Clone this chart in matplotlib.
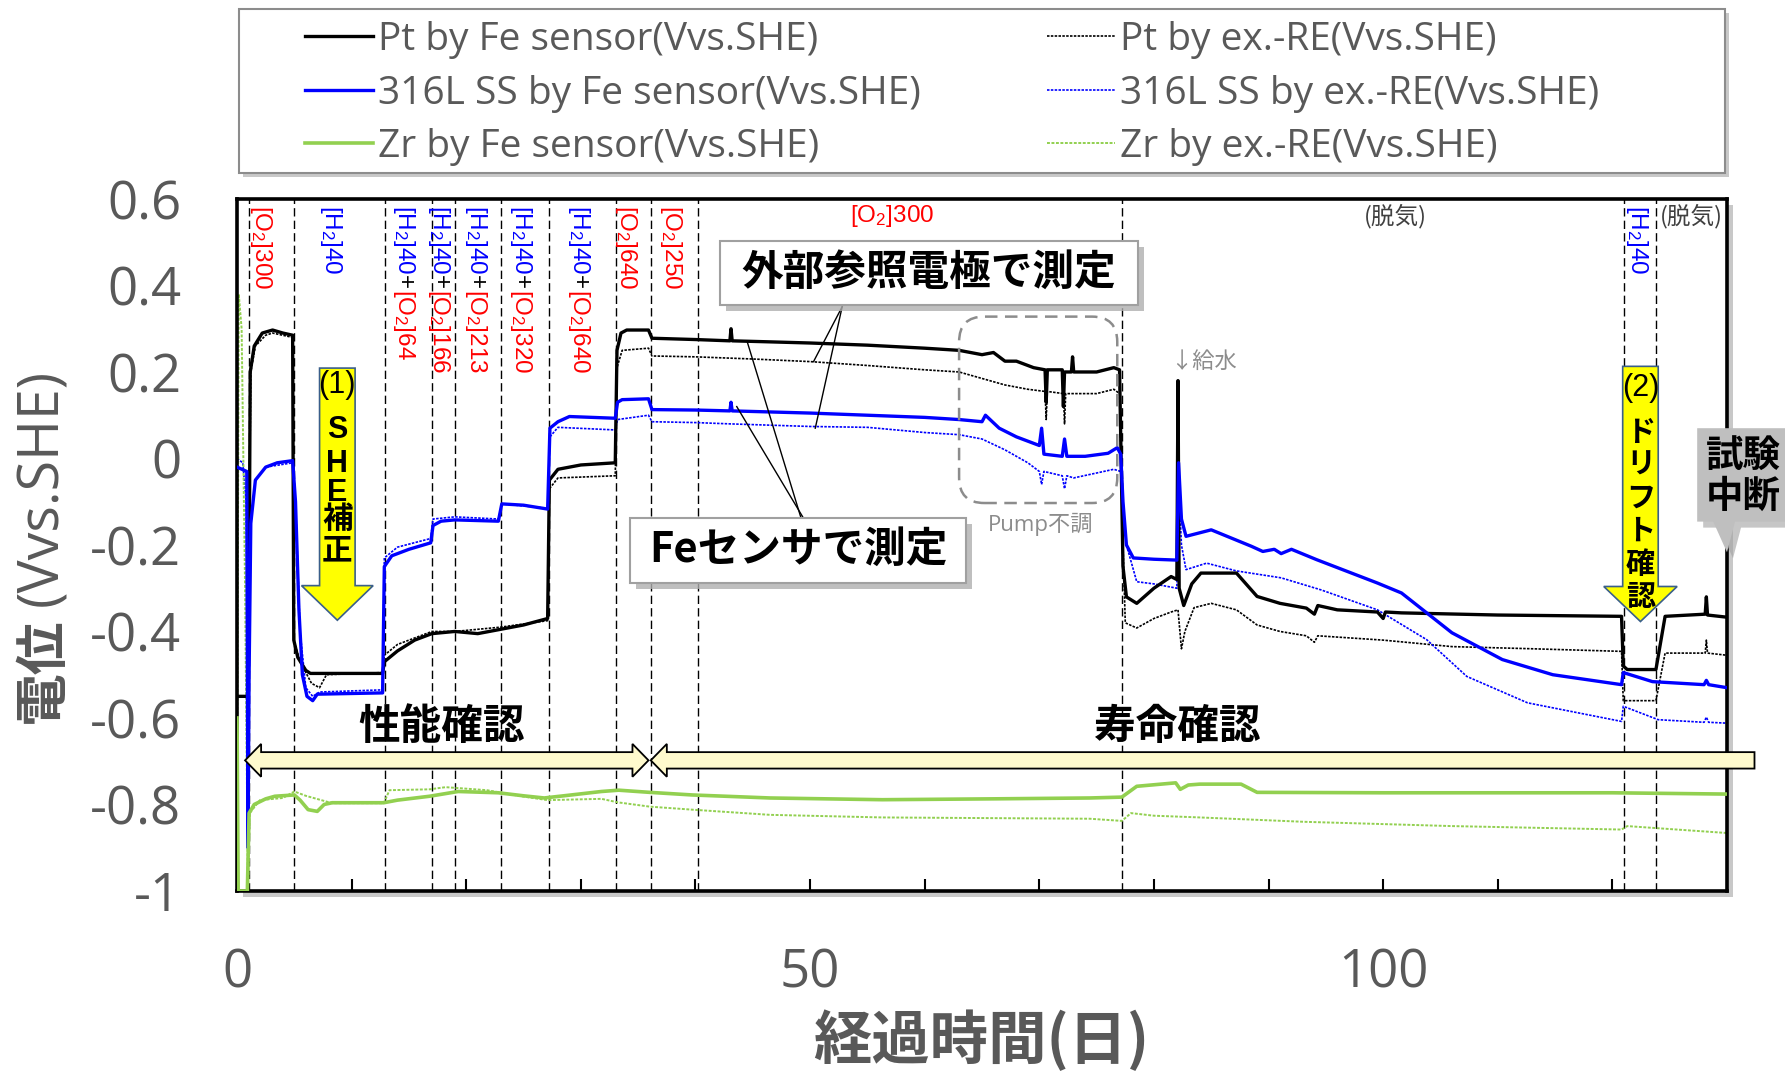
import matplotlib
matplotlib.use("Agg")
import matplotlib.pyplot as plt
import matplotlib.patches as mpatches
import matplotlib.transforms as mtransforms

plt.rcParams['mathtext.fontset'] = 'custom'
plt.rcParams['mathtext.rm'] = 'Liberation Sans'
plt.rcParams['mathtext.it'] = 'Liberation Sans:italic'
plt.rcParams['mathtext.bf'] = 'Liberation Sans:bold'

LAT = ['Liberation Sans', 'Noto Sans CJK JP', 'DejaVu Sans']
JP = ['Noto Sans CJK JP', 'DejaVu Sans']
OPEN = ['Open Sans', 'Noto Sans CJK JP', 'DejaVu Sans']
GRAY = '#595959'

# ---------------- data (day, V vs SHE) ----------------
PT_FE = [(0, -0.55), (0.95, -0.55), (1.05, -0.3), (1.15, 0.2), (1.5, 0.26), (2.2, 0.29), (3.1, 0.297),
         (4.0, 0.29), (4.85, 0.285), (4.95, -0.42), (5.3, -0.46), (6.0, -0.49), (6.4, -0.497), (12.7, -0.497),
         (12.85, -0.47), (14, -0.445), (15.5, -0.42), (17, -0.405), (19, -0.40), (21, -0.405), (23, -0.395),
         (25, -0.385), (27.1, -0.37), (27.25, -0.05), (28, -0.025), (30, -0.015), (33.0, -0.01), (33.15, 0.25),
         (33.5, 0.29), (34, 0.297), (35.9, 0.297), (36.2, 0.278), (40, 0.275), (43, 0.272), (43.1, 0.30),
         (43.2, 0.272), (46, 0.27), (50, 0.267), (55, 0.262), (60, 0.255), (63, 0.25), (65, 0.24), (66, 0.245),
         (67, 0.225), (68, 0.225), (69.5, 0.21), (70.5, 0.205), (70.6, 0.13), (70.7, 0.205), (72, 0.205),
         (72.1, 0.12), (72.2, 0.20), (72.8, 0.20), (72.9, 0.235), (73.0, 0.20), (75, 0.20), (76.5, 0.21),
         (77.0, 0.205), (77.3, -0.25), (77.6, -0.32), (78.5, -0.335), (80, -0.30), (81.5, -0.273), (82.0, -0.28),
         (82.1, 0.18), (82.2, -0.30), (82.6, -0.34), (83.3, -0.29), (84.1, -0.265), (87.2, -0.265), (89, -0.319),
         (91, -0.335), (93.3, -0.346), (94, -0.36), (94.3, -0.34), (96, -0.35), (99.5, -0.355), (100, -0.37),
         (100.2, -0.355), (101.6, -0.357), (110, -0.362), (120.8, -0.365), (120.95, -0.48), (121.3, -0.488),
         (123.8, -0.488), (124.6, -0.365), (128.1, -0.36), (128.2, -0.32), (128.3, -0.362), (130, -0.367)]

SS_FE = [(0, -0.02), (0.85, -0.03), (0.95, -0.9), (1.05, -0.5), (1.2, -0.15), (1.6, -0.05), (2.5, -0.02),
         (3.5, -0.01), (4.85, -0.005), (5.1, -0.1), (5.4, -0.35), (5.7, -0.5), (6.1, -0.55), (6.6, -0.56),
         (7.0, -0.545), (12.7, -0.542), (12.85, -0.25), (13.5, -0.225), (15, -0.21), (16.9, -0.195),
         (17.1, -0.155), (17.8, -0.145), (19, -0.142), (22.8, -0.145), (23.1, -0.105), (25, -0.108),
         (27.1, -0.117), (27.3, 0.07), (28, 0.085), (29, 0.097), (33.0, 0.093), (33.2, 0.13), (33.6, 0.136),
         (35.9, 0.138), (36.2, 0.113), (40, 0.112), (43, 0.11), (43.1, 0.13), (43.2, 0.11), (50, 0.105),
         (55, 0.10), (60, 0.095), (63, 0.09), (65, 0.085), (65.3, 0.10), (66.5, 0.07), (68, 0.05), (70, 0.03),
         (70.2, 0.07), (70.4, 0.01), (72, 0.005), (72.2, 0.045), (72.4, 0.005), (74, 0.005), (76, 0.012),
         (76.8, 0.025), (77.1, 0.01), (77.3, -0.1), (77.6, -0.2), (78.2, -0.23), (80, -0.233), (82.0, -0.235),
         (82.15, -0.01), (82.4, -0.14), (82.8, -0.18), (85, -0.165), (88.5, -0.203), (89.5, -0.215),
         (90.5, -0.21), (91.1, -0.22), (92, -0.21), (94.2, -0.234), (99.5, -0.288), (101.6, -0.311),
         (106, -0.403), (110.4, -0.465), (114.8, -0.50), (120.8, -0.523), (120.95, -0.495), (123.5, -0.516),
         (128, -0.523), (128.2, -0.513), (128.4, -0.523), (130, -0.53)]

ZR_FE = [(0, -0.6), (0.1, -1.0), (0.9, -1.0), (1.05, -0.82), (1.5, -0.80), (2.5, -0.787), (3.3, -0.781),
         (5.0, -0.778), (5.5, -0.79), (6.2, -0.812), (7.0, -0.816), (7.6, -0.80), (8.3, -0.796), (12.8, -0.796),
         (14, -0.79), (16.8, -0.781), (19.3, -0.77), (22.8, -0.773), (25, -0.78), (26.8, -0.785), (28.5, -0.78),
         (31.8, -0.77), (33.3, -0.767), (36, -0.772), (39.7, -0.778), (46.5, -0.785), (56.3, -0.789),
         (66, -0.787), (74.4, -0.785), (77.2, -0.783), (78.5, -0.758), (81.9, -0.75), (82.3, -0.765),
         (83.0, -0.755), (84, -0.753), (87.6, -0.753), (89, -0.772), (100, -0.773), (120, -0.773), (130, -0.776)]

PT_EX = [(0, -0.55), (0.95, -0.55), (1.05, -0.2), (1.2, 0.2), (1.6, 0.26), (2.5, 0.285), (3.1, 0.29),
         (4.85, 0.28), (4.95, -0.42), (5.5, -0.47), (6.5, -0.52), (7.2, -0.53), (7.8, -0.50), (12.7, -0.495),
         (12.85, -0.455), (14, -0.43), (17, -0.40), (19, -0.40), (23, -0.39), (27.1, -0.375), (27.25, -0.07),
         (28, -0.045), (33.0, -0.04), (33.15, 0.21), (33.6, 0.25), (35.9, 0.255), (36.2, 0.237), (40, 0.235),
         (45, 0.23), (50, 0.224), (55, 0.215), (60, 0.205), (63, 0.20), (65, 0.185), (67, 0.17), (69, 0.16),
         (70.5, 0.155), (70.6, 0.09), (70.7, 0.155), (72.1, 0.15), (72.2, 0.08), (72.3, 0.15), (75, 0.15),
         (76.5, 0.16), (77.0, 0.15), (77.3, -0.2), (77.5, -0.38), (78.5, -0.392), (80, -0.37), (81.5, -0.355),
         (82.1, -0.35), (82.4, -0.44), (82.7, -0.40), (83.5, -0.345), (85, -0.335), (87.2, -0.35), (89, -0.385),
         (91, -0.40), (93.3, -0.41), (94, -0.425), (94.3, -0.41), (100, -0.42), (106, -0.435), (113, -0.44),
         (120.8, -0.446), (120.95, -0.56), (123.8, -0.56), (124.6, -0.45), (128.1, -0.45), (128.2, -0.42),
         (128.3, -0.45), (130, -0.455)]

SS_EX = [(0, 0.0), (0.5, -0.01), (0.8, -0.1), (0.95, -0.95), (1.05, -0.5), (1.2, -0.15), (1.6, -0.05),
         (2.5, -0.02), (4.85, -0.01), (5.1, -0.1), (5.5, -0.4), (6.0, -0.53), (6.6, -0.55), (7.2, -0.54),
         (12.7, -0.535), (12.85, -0.23), (14, -0.205), (16.9, -0.185), (17.1, -0.14), (19, -0.135),
         (22.8, -0.14), (23.1, -0.105), (27.1, -0.115), (27.3, 0.05), (28, 0.072), (33.0, 0.066), (33.2, 0.09),
         (35.9, 0.10), (36.2, 0.085), (40, 0.083), (43, 0.08), (50, 0.074), (55, 0.072), (60, 0.06), (63, 0.055),
         (65, 0.045), (67, 0.02), (69, -0.01), (70, -0.03), (70.2, -0.06), (70.4, -0.03), (72, -0.04),
         (72.2, -0.07), (72.4, -0.04), (73, -0.045), (76.5, -0.025), (77.1, -0.03), (77.3, -0.1), (77.6, -0.2),
         (78.5, -0.285), (80, -0.29), (82.0, -0.30), (82.15, -0.05), (82.4, -0.2), (82.8, -0.257),
         (84.6, -0.242), (87.2, -0.26), (91.1, -0.276), (94.6, -0.304), (99.5, -0.35), (103.8, -0.419),
         (107.3, -0.504), (112.6, -0.565), (120.8, -0.608), (120.95, -0.573), (124, -0.604), (128, -0.61),
         (128.2, -0.598), (128.4, -0.61), (130, -0.612)]

ZR_EX = [(0, -0.85), (0.15, 0.38), (0.4, 0.3), (0.7, -0.3), (0.95, -1.0), (1.1, -0.82), (2, -0.79),
         (4, -0.785), (5.0, -0.77), (6, -0.78), (8.3, -0.797), (12.8, -0.797), (13.3, -0.767), (16.8, -0.765),
         (18.2, -0.76), (21.8, -0.767), (24.8, -0.781), (27.1, -0.79), (31.8, -0.787), (33.2, -0.795),
         (36, -0.805), (39.7, -0.812), (46.5, -0.824), (56.3, -0.83), (74.4, -0.833), (77.2, -0.838),
         (78, -0.82), (80, -0.826), (84, -0.83), (93, -0.84), (106, -0.85), (120.8, -0.858), (121.3, -0.85),
         (124, -0.855), (130, -0.866)]

SERIES_LABELS = ["Pt by Fe sensor(Vvs.SHE)", "316L SS by Fe sensor(Vvs.SHE)", "Zr by Fe sensor(Vvs.SHE)",
                 "Pt by ex.-RE(Vvs.SHE)", "316L SS by ex.-RE(Vvs.SHE)", "Zr by ex.-RE(Vvs.SHE)"]

EVENT_DAYS = [1.0, 5.0, 12.9, 17.0, 19.0, 23.0, 27.2, 33.1, 36.1, 40.2, 77.2, 121.0, 123.8]

XTICKS = list(range(0, 130, 10))
XTICK_LABELS = ['0', '', '', '', '', '50', '', '', '', '', '100', '', '']
YTICKS = [-1, -0.8, -0.6, -0.4, -0.2, 0, 0.2, 0.4, 0.6]
YTICK_LABELS = ['-1', '-0.8', '-0.6', '-0.4', '-0.2', '0', '0.2', '0.4', '0.6']

RED, BLUE, BLK = '#FF0000', '#0000FF', '#000000'
PHASE_LABELS = [
    (2.3, [("[O$_2$]300", RED)]),
    (8.4, [("[H$_2$]40", BLUE)]),
    (14.8, [("[H$_2$]40", BLUE), ("+", BLK), ("[O$_2$]64", RED)]),
    (17.9, [("[H$_2$]40", BLUE), ("+", BLK), ("[O$_2$]166", RED)]),
    (21.1, [("[H$_2$]40", BLUE), ("+", BLK), ("[O$_2$]213", RED)]),
    (25.0, [("[H$_2$]40", BLUE), ("+", BLK), ("[O$_2$]320", RED)]),
    (30.1, [("[H$_2$]40", BLUE), ("+", BLK), ("[O$_2$]640", RED)]),
    (34.2, [("[O$_2$]640", RED)]),
    (38.1, [("[O$_2$]250", RED)]),
    (122.4, [("[H$_2$]40", BLUE)]),
]

# ---------------- figure ----------------
DPI = 100
fig = plt.figure(figsize=(17.85, 10.75), dpi=DPI)
AX_RECT = [0.1328, 0.1712, 0.8347, 0.6437]
ax = fig.add_axes(AX_RECT)
ax.set_xlim(0, 130)
ax.set_ylim(-1, 0.6)

# axes shadow
sx, sy = 6 / 1785, 6 / 1075
fig.add_artist(mpatches.Rectangle((AX_RECT[0] + sx, AX_RECT[1] - sy), AX_RECT[2], AX_RECT[3],
                                  transform=fig.transFigure, fc='#C8C8C8', ec='none', zorder=-2))

for s in ax.spines.values():
    s.set_linewidth(2.6)
    s.set_color('black')

ax.set_xticks(XTICKS)
ax.set_xticklabels(XTICK_LABELS)
ax.set_yticks(YTICKS)
ax.set_yticklabels(YTICK_LABELS)
ax.tick_params(axis='x', direction='in', length=9, width=1.5, pad=40, labelsize=38, labelcolor=GRAY)
ax.tick_params(axis='y', length=0, pad=40, labelsize=38, labelcolor=GRAY)
for lab in ax.get_xticklabels() + ax.get_yticklabels():
    lab.set_family(OPEN)

# event dashed lines
for d in EVENT_DAYS:
    ax.axvline(d, color='black', lw=1.0, ls=(0, (6, 3)), zorder=1)

def unz(p):
    return [a for a, b in p], [b for a, b in p]

thin_ls = (0, (1.5, 0.8))
l_pt_ex, = ax.plot(*unz(PT_EX), color='black', lw=1.2, ls=thin_ls, zorder=2)
l_ss_ex, = ax.plot(*unz(SS_EX), color='#0000FF', lw=1.2, ls=thin_ls, zorder=2)
l_zr_ex, = ax.plot(*unz(ZR_EX), color='#92D050', lw=1.4, ls=thin_ls, zorder=2)
l_pt_fe, = ax.plot(*unz(PT_FE), color='black', lw=2.4, zorder=3)
l_ss_fe, = ax.plot(*unz(SS_FE), color='#0000FF', lw=2.4, zorder=3)
l_zr_fe, = ax.plot(*unz(ZR_FE), color='#92D050', lw=2.6, zorder=3)

# ---------------- legend ----------------
LEG = (239 / 1785, 1 - 173 / 1075, (1725 - 239) / 1785, (173 - 9) / 1075)
fig.add_artist(mpatches.Rectangle((LEG[0] + 4 / 1785, LEG[1] - 4 / 1075), LEG[2], LEG[3],
                                  transform=fig.transFigure, fc='#C8C8C8', ec='none', zorder=-2))
fig.add_artist(mpatches.Rectangle((LEG[0], LEG[1]), LEG[2], LEG[3], transform=fig.transFigure,
                                  fc='white', ec='#8C8C8C', lw=1.5, zorder=-1))
leg = fig.legend([l_pt_fe, l_ss_fe, l_zr_fe, l_pt_ex, l_ss_ex, l_zr_ex], SERIES_LABELS, ncol=2,
                 loc='upper left', bbox_to_anchor=(305 / 1785, 1 - 21 / 1075), frameon=False,
                 prop={'family': OPEN, 'size': 28}, handlelength=1.75, handletextpad=0.13,
                 columnspacing=3.25, labelspacing=0.4, borderpad=0, borderaxespad=0)
for t in leg.get_texts():
    t.set_color(GRAY)

# ---------------- axis labels ----------------
fig.text(0.5497, 0.031, "経過時間(日)", family=JP, fontweight='bold', fontsize=42, color=GRAY,
         ha='center', va='center')

renderer = fig.canvas.get_renderer()
t1 = fig.text(0.024, 1 - 723 / 1075, "電位", family=JP, fontweight='bold', fontsize=38, color=GRAY,
              rotation=90, ha='center', va='bottom')
bb = t1.get_window_extent(renderer)
fig.text(0.024, (bb.y1 + 12) / fig.bbox.height, "(Vvs.SHE)", family=OPEN, fontsize=40, color=GRAY,
         rotation=90, ha='center', va='bottom')

# ---------------- rotated phase labels ----------------
inv = ax.transData.inverted()

def vlabel(x, ytop, pieces, fs=17.5):
    px, py = ax.transData.transform((x, ytop))
    fspx = fs * DPI / 72
    bx = px - 0.36 * fspx
    cur = py
    for s, c in pieces:
        dx, dy = inv.transform((bx, cur))
        t = ax.text(dx, dy, s, color=c, fontsize=fs, family=LAT, rotation=270, rotation_mode='anchor',
                    ha='left', va='baseline', zorder=6)
        b = t.get_window_extent(renderer)
        cur -= b.height

for x, pieces in PHASE_LABELS:
    vlabel(x, 0.585, pieces)

ax.text(57.2, 0.56, "[O$_2$]300", color=RED, fontsize=17.5, family=LAT, ha='center', va='center', zorder=6)
ax.text(101.1, 0.56, "(脱気)", color='#404040', fontsize=17, family=JP, ha='center', va='center', zorder=6)
ax.text(126.9, 0.56, "(脱気)", color='#404040', fontsize=17, family=JP, ha='center', va='center', zorder=6)

# ---------------- callout boxes ----------------
shadow_tr = mtransforms.offset_copy(ax.transData, fig=fig, x=6, y=-6, units='dots')

def callout(x0, x1, y0, y1, text, fs=30):
    ax.add_patch(mpatches.Rectangle((x0, y0), x1 - x0, y1 - y0, transform=shadow_tr, fc='#B0B0B0',
                                    ec='none', zorder=7, alpha=0.8))
    ax.add_patch(mpatches.Rectangle((x0, y0), x1 - x0, y1 - y0, fc='white', ec='#A0A0A0', lw=1.5, zorder=8))
    ax.text((x0 + x1) / 2, (y0 + y1) / 2, text, family=JP, fontweight='bold', fontsize=fs, color='black',
            ha='center', va='center', zorder=9)

callout(42.1, 78.6, 0.355, 0.503, "外部参照電極で測定")
callout(34.3, 63.6, -0.287, -0.137, "Feセンサで測定")

# pointer lines
for (xa, ya, xb, yb) in [(52.8, 0.351, 50.3, 0.224), (52.8, 0.351, 50.45, 0.070),
                         (49.2, -0.137, 44.5, 0.271), (49.4, -0.137, 43.6, 0.12)]:
    ax.plot([xa, xb], [ya, yb], color='black', lw=1.0, zorder=6)

# Pump 不調 dashed rounded box
pump = mpatches.FancyBboxPatch((63.0, -0.103), 13.8, 0.431, boxstyle="round,pad=0,rounding_size=2.2",
                               mutation_aspect=0.0265, fc='none', ec='#8C8C8C', lw=1.8, ls=(0, (5, 3)),
                               zorder=5)
ax.add_patch(pump)
ax.text(70.1, -0.152, "Pump不調", family=OPEN, fontsize=16, color='#8C8C8C', ha='center', va='center', zorder=6)
ax.text(81.4, 0.224, "↓給水", family=JP, fontsize=16, color='#8C8C8C', ha='left', va='center', zorder=6)

# ---------------- yellow down arrows ----------------
def down_arrow(xc, bw, hw, ytop, ybase, ytip):
    verts = [(xc - bw / 2, ytop), (xc + bw / 2, ytop), (xc + bw / 2, ybase), (xc + hw / 2, ybase),
             (xc, ytip), (xc - hw / 2, ybase), (xc - bw / 2, ybase)]
    ax.add_patch(mpatches.Polygon(verts, closed=True, fc='#FFFF00', ec='#3A5F8A', lw=1.2, zorder=8))

down_arrow(8.75, 3.1, 6.25, 0.209, -0.294, -0.374)
down_arrow(122.45, 3.1, 6.4, 0.213, -0.296, -0.377)

ax.text(8.75, 0.17, "(1)", family=LAT, fontsize=22, color='black', ha='center', va='center', zorder=9)
for ch, yv in zip(["S", "H", "E", "補", "正"], [0.066, -0.013, -0.079, -0.143, -0.216]):
    ax.text(8.75, yv, ch, family=['Liberation Sans', 'Noto Sans CJK JP'], fontweight='bold', fontsize=22,
            color='black', ha='center', va='center', zorder=9)
ax.text(122.45, 0.163, "(2)", family=LAT, fontsize=22, color='black', ha='center', va='center', zorder=9)
ax.text(122.45, 0.097, "ド\nリ\nフ\nト\n確\n認", family=JP, fontweight='bold', fontsize=21, color='black',
        ha='center', va='top', linespacing=1.13, zorder=9)

# 試験中断 callout
stop = [(127.4, 0.070), (135.2, 0.070), (135.2, -0.146), (130.7, -0.146), (130.0, -0.217),
        (128.8, -0.146), (127.4, -0.146)]
ax.add_patch(mpatches.Polygon(stop, closed=True, transform=shadow_tr, fc='#A0A0A0', ec='none',
                              zorder=7, clip_on=False, alpha=0.6))
ax.add_patch(mpatches.Polygon(stop, closed=True, fc='#BFBFBF', ec='none', zorder=8, clip_on=False))
ax.text(131.4, -0.04, "試験\n中断", family=JP, fontweight='bold', fontsize=27, color='black',
        ha='center', va='center', linespacing=1.05, zorder=9, clip_on=False)

# ---------------- phase double arrows ----------------
yc, h, H, L = -0.698, 0.019, 0.038, 1.4
a1 = [(0.7, yc), (0.7 + L, yc + H), (0.7 + L, yc + h), (35.9 - L, yc + h), (35.9 - L, yc + H), (35.9, yc),
      (35.9 - L, yc - H), (35.9 - L, yc - h), (0.7 + L, yc - h), (0.7 + L, yc - H)]
a2 = [(36.1, yc), (36.1 + L, yc + H), (36.1 + L, yc + h), (132.4, yc + h), (132.4, yc - h),
      (36.1 + L, yc - h), (36.1 + L, yc - H)]
for verts in (a1, a2):
    ax.add_patch(mpatches.Polygon(verts, closed=True, fc='#FFFACD', ec='black', lw=1.3, zorder=8,
                                  clip_on=False))
ax.text(17.8, -0.62, "性能確認", family=JP, fontweight='bold', fontsize=30, color='black',
        ha='center', va='center', zorder=9)
ax.text(82.0, -0.62, "寿命確認", family=JP, fontweight='bold', fontsize=30, color='black',
        ha='center', va='center', zorder=9)

fig.savefig("out.png", dpi=DPI)
